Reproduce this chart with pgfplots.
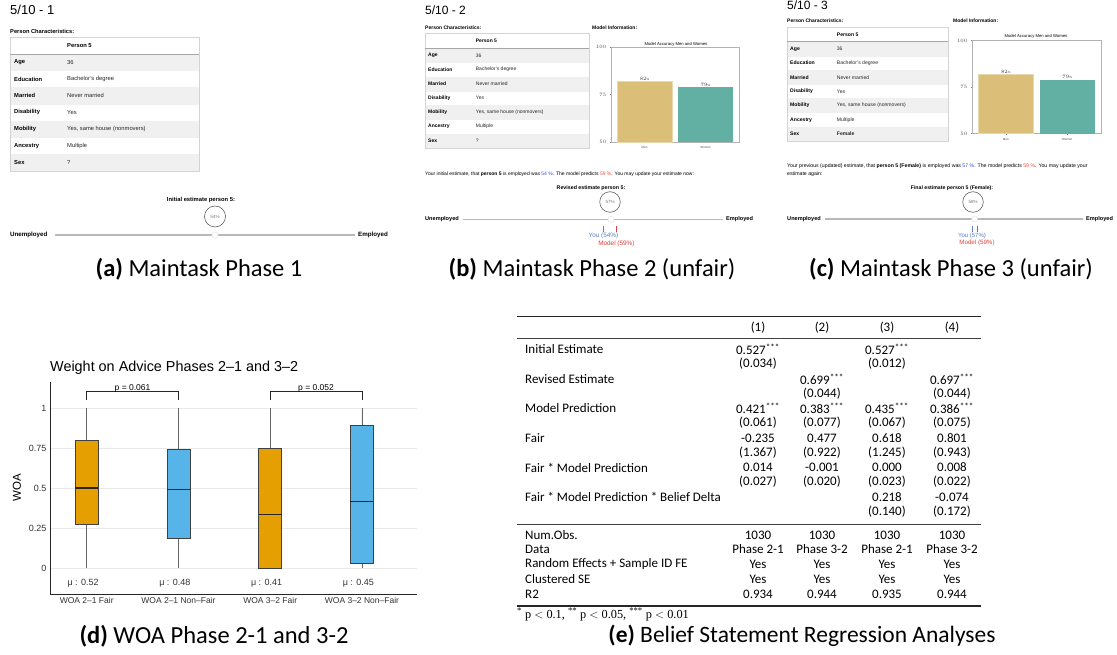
\documentclass[border=0pt]{standalone}
\usepackage{pgfplots}
\pgfplotsset{compat=1.18}
\usepgfplotslibrary{statistics}
\usepackage{fontspec}
\setmainfont{Liberation Sans}
\newfontfamily\capfont{Carlito}
\newfontfamily\serfont{Liberation Serif}
\newcommand{\fs}[1]{\fontsize{#1}{#1}\selectfont}
\definecolor{rowgrey}{HTML}{F0F0F0}
\definecolor{linegrey}{HTML}{D4D4D4}
\definecolor{slidergrey}{HTML}{B8B8B8}
\definecolor{goldbar}{HTML}{DBBE78}
\definecolor{tealbar}{HTML}{62AFA3}
\definecolor{bluet}{HTML}{3D4FF0}
\definecolor{redt}{HTML}{F0503C}
\definecolor{youblue}{HTML}{5A7DC0}
\definecolor{modred}{HTML}{D9413B}
\definecolor{woaor}{HTML}{E69F00}
\definecolor{woabl}{HTML}{56B4E9}

% #1 x0, #2 x1, #3 top, #4 header h, #5 row h, #6 label x, #7 value x, #8 font size, #9 sex value
\newcommand{\uitable}[9]{%
  \pgfmathsetmacro{\hb}{#3+#4}%
  \pgfmathsetmacro{\tbot}{#3+#4+7*#5}%
  \foreach \lab/\val [count=\i] in {Age/36, Education/Bachelor's degree, Married/Never married, Disability/Yes, Mobility/{Yes, same house (nonmovers)}, Ancestry/Multiple, Sex/{#9}} {
    \pgfmathsetmacro{\yt}{\hb+(\i-1)*#5}
    \pgfmathsetmacro{\yb}{\yt+#5}
    \pgfmathsetmacro{\ym}{\yt+#5/2}
    \ifodd\i\relax \fill[rowgrey] (#1,\yt) rectangle (#2,\yb); \fi
    \draw[black!6, line width=0.4] (#1,\yb) -- (#2,\yb);
    \node[anchor=west, font=\fs{#8}\bfseries, inner sep=0] at (#6,\ym) {\lab};
    \node[anchor=west, font=\fs{#8}, inner sep=0, text=black!85] at (#7,\ym) {\val};
  }
  \draw[linegrey, line width=0.6] (#1,#3) rectangle (#2,\tbot);
  \draw[black!35, line width=0.9] (#1,\hb) -- (#2,\hb);
  \node[anchor=west, font=\fs{#8}\bfseries, inner sep=0] at (#7,{#3+#4/2}) {Person 5};
}

\pgfplotsset{minibar/.style={scale only axis, anchor=north west,
  ymin=50, ymax=100, xmin=-0.55, xmax=1.55,
  ytick={50,75,100}, xtick={0,1}, xticklabels={Men,Women},
  tick label style={font=\fs{3}, text=black!70},
  major tick length=1.2pt, tick align=outside, tick pos=left,
  axis line style={draw=black!30, line width=0.7pt},
  tick style={draw=black!50, line width=0.3pt},
  nodes near coords={\pgfmathprintnumber{\pgfplotspointmeta}\%},
  nodes near coords style={font=\fs{3}, inner sep=0.6pt, text=black!80},
}}

\begin{document}
\begin{tikzpicture}
\begin{scope}[x=1pt,y=-1pt]
\path[use as bounding box] (0,0) rectangle (1117,655);
\fill[white] (0,0) rectangle (1117,655);

% ---------------- panel (a)
\node[anchor=base west, font=\fs{13}, inner sep=0] at (10,15) {5/10 - 1};
\node[anchor=base west, font=\fs{5.7}\bfseries, inner sep=0] at (10,33.5) {Person Characteristics:};
\uitable{10}{199}{37}{17}{16.7}{14}{67}{5.8}{?}
\node[font=\fs{5.8}\bfseries, inner sep=0] at (201,200) {Initial estimate person 5:};
\draw[black!70, line width=0.5] (215,216.5) circle (10.5);
\node[font=\fs{4.6}, text=black!55, inner sep=0] at (215,216.5) {54\%};
\draw[slidergrey, line width=1.3] (55,235) -- (355,235);
\fill[white] (215,235) circle (3.2); \draw[black!15, line width=0.3] (215,235) circle (3.2);
\node[anchor=west, font=\fs{6.2}\bfseries, inner sep=0] at (10,235) {Unemployed};
\node[anchor=west, font=\fs{6.2}\bfseries, inner sep=0] at (358,235) {Employed};
\node[font=\capfont\fs{24.5}] at (199,269) {\textbf{(a)} Maintask Phase 1};

% ---------------- panel (b)
\node[anchor=base west, font=\fs{12}, inner sep=0] at (425,15) {5/10 - 2};
\node[anchor=base west, font=\fs{5}\bfseries, inner sep=0] at (425,30) {Person Characteristics:};
\node[anchor=base west, font=\fs{5}\bfseries, inner sep=0] at (592,30) {Model Information:};
\uitable{425}{589}{33.3}{15}{14.24}{428}{475.7}{5}{?}
\node[font=\fs{4.2}, inner sep=0] at (676,44.3) {Model Accuracy Men and Women};
\node[anchor=base west, font=\fs{5}, inner sep=0] at (425,175.8) {Your initial estimate, that \textbf{person 5} is employed was \textcolor{bluet}{54 \%}. The model predicts \textcolor{redt}{59 \%}. You may update your estimate now:};
\node[font=\fs{5.3}\bfseries, inner sep=0] at (591,188.5) {Revised estimate person 5:};
\draw[black!70, line width=0.5] (610,202) circle (10.3);
\node[font=\fs{4.5}, text=black!55, inner sep=0] at (610,202) {57\%};
\draw[slidergrey, line width=1.3] (463,219.3) -- (723,219.3);
\fill[white] (611,219.3) circle (3); \draw[black!15, line width=0.3] (611,219.3) circle (3);
\node[anchor=west, font=\fs{5.6}\bfseries, inner sep=0] at (425,219.5) {Unemployed};
\node[anchor=west, font=\fs{5.6}\bfseries, inner sep=0] at (726,219.5) {Employed};
\draw[youblue, line width=0.7] (603.4,226.5) -- (603.4,232);
\draw[modred, line width=0.7] (616.4,226.5) -- (616.4,232);
\node[font=\fs{6.4}, text=youblue, inner sep=0] at (603.4,236.3) {You (54\%)};
\node[font=\fs{6.4}, text=modred, inner sep=0] at (616.4,243.6) {Model (59\%)};
\node[font=\capfont\fs{24.5}] at (592,269) {\textbf{(b)} Maintask Phase 2 (unfair)};

% ---------------- panel (c)
\node[anchor=base west, font=\fs{12}, inner sep=0] at (787,10) {5/10 - 3};
\node[anchor=base west, font=\fs{5}\bfseries, inner sep=0] at (787,22.5) {Person Characteristics:};
\node[anchor=base west, font=\fs{5}\bfseries, inner sep=0] at (953,22.5) {Model Information:};
\uitable{787}{948}{27.3}{14.4}{14.2}{790}{836.7}{5.1}{\textbf{Female}}
\node[font=\fs{4.2}, inner sep=0] at (1036,36.7) {Model Accuracy Men and Women};
\node[anchor=base west, font=\fs{5.2}, inner sep=0] at (787,167.8) {Your previous (updated) estimate, that \textbf{person 5 (Female)} is employed was \textcolor{bluet}{57 \%}. The model predicts \textcolor{redt}{59 \%}. You may update your};
\node[anchor=base west, font=\fs{5.2}, inner sep=0] at (787,175.8) {estimate again:};
\node[font=\fs{5.2}\bfseries, inner sep=0] at (952,188.5) {Final estimate person 5 (Female):};
\draw[black!70, line width=0.5] (973,202) circle (10.3);
\node[font=\fs{4.5}, text=black!55, inner sep=0] at (973,202) {58\%};
\draw[slidergrey, line width=1.3] (825,219) -- (1083,219);
\fill[white] (974.6,219) circle (3); \draw[black!15, line width=0.3] (974.6,219) circle (3);
\node[anchor=west, font=\fs{5.6}\bfseries, inner sep=0] at (787,219.2) {Unemployed};
\node[anchor=west, font=\fs{5.6}\bfseries, inner sep=0] at (1086,219.2) {Employed};
\draw[youblue, line width=0.7] (972,226.5) -- (972,232);
\draw[modred, line width=0.7] (977,226.5) -- (977,232);
\node[font=\fs{6}, text=youblue, inner sep=0] at (972,236) {You (57\%)};
\node[font=\fs{6.2}, text=modred, inner sep=0] at (977,243.3) {Model (59\%)};
\node[font=\capfont\fs{24.5}] at (951,269) {\textbf{(c)} Maintask Phase 3 (unfair)};

% ---------------- panel (d) texts
\node[anchor=west, font=\fs{14.4}, inner sep=0] at (50,368) {Weight on Advice Phases 2–1 and 3–2};
\node[rotate=90, font=\fs{11.5}, inner sep=0] at (17,488) {WOA};
\node[font=\capfont\fs{24.5}] at (214,636) {\textbf{(d)} WOA Phase 2-1 and 3-2};

% ---------------- panel (e) table
\draw[black!85, line width=1.1] (517,316.5) -- (981,316.5);
\draw[black!75, line width=0.6] (517,338.2) -- (981,338.2);
\draw[black!75, line width=0.6] (517,524.5) -- (981,524.5);
\draw[black!85, line width=1.1] (517,606) -- (981,606);
\begin{scope}[every node/.style={font=\capfont\fs{13}, inner sep=0}]
\newcommand{\trow}[5]{\node[anchor=west] at (525,#1) {#2}; \node at (758,#1) {#3}; \node at (822,#1) {#4}; \node at (887,#1) {#5};}
\node at (758,327.5) {(1)}; \node at (822,327.5) {(2)}; \node at (887,327.5) {(3)}; \node at (952,327.5) {(4)};
\trow{349.5}{Initial Estimate}{0.527\textsuperscript{***}}{}{0.527\textsuperscript{***}}
\trow{364}{}{(0.034)}{}{(0.012)}
\trow{379}{Revised Estimate}{}{0.699\textsuperscript{***}}{} \node at (952,379) {0.697\textsuperscript{***}};
\trow{393.5}{}{}{(0.044)}{} \node at (952,393.5) {(0.044)};
\trow{408.5}{Model Prediction}{0.421\textsuperscript{***}}{0.383\textsuperscript{***}}{0.435\textsuperscript{***}} \node at (952,408.5) {0.386\textsuperscript{***}};
\trow{423}{}{(0.061)}{(0.077)}{(0.067)} \node at (952,423) {(0.075)};
\trow{438}{Fair}{-0.235}{0.477}{0.618} \node at (952,438) {0.801};
\trow{452.5}{}{(1.367)}{(0.922)}{(1.245)} \node at (952,452.5) {(0.943)};
\trow{467.5}{Fair * Model Prediction}{0.014}{-0.001}{0.000} \node at (952,467.5) {0.008};
\trow{482}{}{(0.027)}{(0.020)}{(0.023)} \node at (952,482) {(0.022)};
\trow{497}{Fair * Model Prediction * Belief Delta}{}{}{0.218} \node at (952,497) {-0.074};
\trow{511.5}{}{}{}{(0.140)} \node at (952,511.5) {(0.172)};
\trow{535}{Num.Obs.}{1030}{1030}{1030} \node at (952,535) {1030};
\trow{549.5}{Data}{Phase 2-1}{Phase 3-2}{Phase 2-1} \node at (952,549.5) {Phase 3-2};
\trow{564.5}{Random Effects + Sample ID FE}{Yes}{Yes}{Yes} \node at (952,564.5) {Yes};
\trow{579.5}{Clustered SE}{Yes}{Yes}{Yes} \node at (952,579.5) {Yes};
\trow{594.5}{R2}{0.934}{0.944}{0.935} \node at (952,594.5) {0.944};
\end{scope}
\node[anchor=west, font=\serfont\fs{12.3}, inner sep=0] at (517,614.5) {\textsuperscript{*} p $<$ 0.1, \textsuperscript{**} p $<$ 0.05, \textsuperscript{***} p $<$ 0.01};
\node[font=\capfont\fs{23.5}] at (802,636) {\textbf{(e)} Belief Statement Regression Analyses};
\end{scope}

% ---------------- bar chart (b)
\begin{axis}[minibar, at={(611pt,-47pt)}, width=128pt, height=95pt]
\addplot[ybar, bar width=55pt, fill=goldbar, draw=goldbar!60!white, line width=0.5pt] coordinates {(0,82)};
\addplot[ybar, bar width=55pt, fill=tealbar, draw=none] coordinates {(1,79)};
\end{axis}

% ---------------- bar chart (c)
\begin{axis}[minibar, at={(972pt,-40.5pt)}, width=129pt, height=93pt]
\addplot[ybar, bar width=55pt, fill=goldbar, draw=goldbar!60!white, line width=0.5pt] coordinates {(0,82)};
\addplot[ybar, bar width=55pt, fill=tealbar, draw=none] coordinates {(1,79)};
\end{axis}

% ---------------- box plot (d)
\begin{axis}[at={(50pt,-382pt)}, anchor=north west, scale only axis, width=367pt, height=212pt,
  xmin=0.6, xmax=4.6, ymin=-0.1625, ymax=1.1625,
  axis lines*=left, axis line style={-, line width=0.8pt, draw=black!85},
  ytick={0,0.25,0.5,0.75,1},
  xtick={1,2,3,4}, xticklabels={WOA 2–1 Fair, WOA 2–1 Non–Fair, WOA 3–2 Fair, WOA 3–2 Non–Fair},
  major tick length=0pt,
  ymajorgrids, grid style={black!9, line width=0.6pt},
  xticklabel style={font=\fs{8.5}, text=black!80},
  yticklabel style={font=\fs{9}, text=black!80},
  /pgf/number format/assume math mode=true,
  clip=false,
  boxplot/draw direction=y,
  boxplot/box extend=0.25, boxplot/whisker extend=0,
  boxplot/every whisker/.style={draw=black!60, line width=0.8pt},
  boxplot/every median/.style={draw=black!85, line width=1.5pt},
  boxplot/every box/.style={draw=black!75, line width=0.7pt},
]
\addplot[boxplot prepared={draw position=1, lower whisker=0, lower quartile=0.273, median=0.5, upper quartile=0.8, upper whisker=1}, fill=woaor, draw=black!75] coordinates {};
\addplot[boxplot prepared={draw position=2, lower whisker=0, lower quartile=0.183, median=0.49, upper quartile=0.74, upper whisker=1}, fill=woabl, draw=black!75] coordinates {};
\addplot[boxplot prepared={draw position=3, lower whisker=0, lower quartile=0, median=0.333, upper quartile=0.75, upper whisker=1}, fill=woaor, draw=black!75] coordinates {};
\addplot[boxplot prepared={draw position=4, lower whisker=0, lower quartile=0.03, median=0.417, upper quartile=0.89, upper whisker=1}, fill=woabl, draw=black!75] coordinates {};
\draw[black!85, line width=0.7pt] (axis cs:1,1.05) -- (axis cs:1,1.106) -- (axis cs:2,1.106) -- (axis cs:2,1.05);
\draw[black!85, line width=0.7pt] (axis cs:3,1.05) -- (axis cs:3,1.106) -- (axis cs:4,1.106) -- (axis cs:4,1.05);
\node[font=\fs{8.5}, anchor=base, inner sep=0] at (axis cs:1.5,1.112) {p = 0.061};
\node[font=\fs{8.5}, anchor=base, inner sep=0] at (axis cs:3.5,1.112) {p = 0.052};
\node[font=\fs{9}, text=black!80] at (axis cs:0.96,-0.094) {μ : 0.52};
\node[font=\fs{9}, text=black!80] at (axis cs:1.96,-0.094) {μ : 0.48};
\node[font=\fs{9}, text=black!80] at (axis cs:2.96,-0.094) {μ : 0.41};
\node[font=\fs{9}, text=black!80] at (axis cs:3.96,-0.094) {μ : 0.45};
\end{axis}
\end{tikzpicture}
\end{document}
